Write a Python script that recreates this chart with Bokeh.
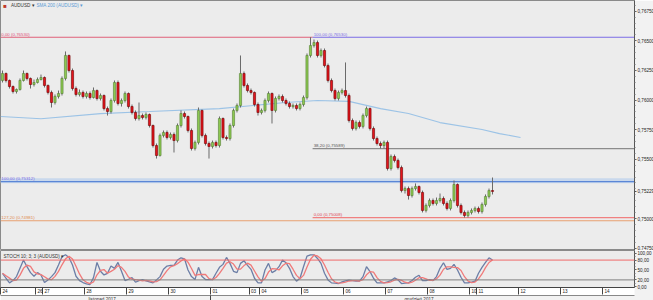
from bokeh.plotting import figure
from bokeh.layouts import column
from bokeh.models import (Range1d, FixedTicker, LinearAxis, CustomJSTickFormatter, Label,
                          ColumnDataSource, Span)
from bokeh.embed import file_html
from bokeh.resources import INLINE

# ---------------- data (AUDUSD, H2 candles) ----------------
first_open = 0.76165
close = [
    0.76224, 0.76165, 0.76114, 0.76072, 0.76089, 0.76165, 0.76224, 0.76182, 0.76131, 0.76148,
    0.76173, 0.76190, 0.76123, 0.76064, 0.75979, 0.76030, 0.76055, 0.76182, 0.76376, 0.76249,
    0.76097, 0.76047, 0.76064, 0.76030, 0.76055, 0.76021, 0.76080, 0.76013, 0.76038, 0.75928,
    0.75903, 0.75996, 0.76148, 0.75971, 0.75996, 0.76055, 0.75945, 0.75895, 0.75844, 0.75869,
    0.75853, 0.75878, 0.75785, 0.75616, 0.75532, 0.75701, 0.75726, 0.75684, 0.75709, 0.75658,
    0.75785, 0.75886, 0.75861, 0.75743, 0.75591, 0.75642, 0.75912, 0.75701, 0.75633, 0.75608,
    0.75642, 0.75616, 0.75844, 0.75684, 0.75675, 0.75785, 0.75912, 0.75954, 0.76224, 0.76123,
    0.76080, 0.76064, 0.75962, 0.75895, 0.75912, 0.75996, 0.76055, 0.75912, 0.76013, 0.76030,
    0.75996, 0.75971, 0.75945, 0.75954, 0.75928, 0.75962, 0.76021, 0.76376, 0.76460, 0.76485,
    0.76376, 0.76418, 0.76291, 0.76165, 0.76080, 0.76013, 0.76064, 0.76080, 0.76038, 0.75827,
    0.75760, 0.75810, 0.75777, 0.75869, 0.75928, 0.75760, 0.75675, 0.75633, 0.75616, 0.75642,
    0.75422, 0.75523, 0.75490, 0.75430, 0.75236, 0.75253, 0.75194, 0.75253, 0.75270, 0.75220,
    0.75068, 0.75110, 0.75152, 0.75127, 0.75152, 0.75169, 0.75127, 0.75085, 0.75152, 0.75287,
    0.75110, 0.75051, 0.75025, 0.75051, 0.75068, 0.75085, 0.75059, 0.75118, 0.75186, 0.75236,
    0.75229]
high = [
    0.76249, 0.76232, 0.76173, 0.76123, 0.76097, 0.76182, 0.76249, 0.76232, 0.76190, 0.76173,
    0.76190, 0.76215, 0.76199, 0.76131, 0.76080, 0.76047, 0.76080, 0.76199, 0.76410, 0.76384,
    0.76266, 0.76114, 0.76089, 0.76080, 0.76072, 0.76072, 0.76106, 0.76089, 0.76055, 0.76047,
    0.75945, 0.76013, 0.76165, 0.76165, 0.76013, 0.76072, 0.76064, 0.75962, 0.75912, 0.75979,
    0.75886, 0.75895, 0.75886, 0.75793, 0.75633, 0.75717, 0.75743, 0.75743, 0.75726, 0.75726,
    0.75802, 0.75912, 0.75903, 0.75869, 0.75760, 0.75658, 0.75937, 0.75920, 0.75717, 0.75650,
    0.75658, 0.75658, 0.75861, 0.75853, 0.75701, 0.75802, 0.75928, 0.75971, 0.76376, 0.76241,
    0.76140, 0.76097, 0.76072, 0.75979, 0.75928, 0.76013, 0.76072, 0.76064, 0.76030, 0.76047,
    0.76047, 0.76013, 0.75988, 0.75971, 0.75971, 0.75979, 0.76038, 0.76393, 0.76530, 0.76511,
    0.76502, 0.76435, 0.76435, 0.76308, 0.76182, 0.76097, 0.76080, 0.76097, 0.76317, 0.76055,
    0.75844, 0.75827, 0.75827, 0.75886, 0.75945, 0.75937, 0.75777, 0.75692, 0.75650, 0.75658,
    0.75658, 0.75540, 0.75540, 0.75506, 0.75447, 0.75270, 0.75270, 0.75270, 0.75296, 0.75279,
    0.75236, 0.75127, 0.75169, 0.75169, 0.75177, 0.75211, 0.75186, 0.75144, 0.75169, 0.75321,
    0.75296, 0.75127, 0.75068, 0.75068, 0.75085, 0.75101, 0.75101, 0.75135, 0.75203, 0.75253,
    0.75346]
low = [
    0.76148, 0.76148, 0.76097, 0.76055, 0.76055, 0.76080, 0.76156, 0.76165, 0.76097, 0.76114,
    0.76140, 0.76165, 0.76106, 0.76047, 0.75937, 0.75962, 0.76013, 0.76038, 0.76165, 0.76232,
    0.76080, 0.76030, 0.76030, 0.76013, 0.76013, 0.76004, 0.76013, 0.75996, 0.75996, 0.75912,
    0.75869, 0.75886, 0.75979, 0.75954, 0.75945, 0.75979, 0.75928, 0.75878, 0.75827, 0.75827,
    0.75836, 0.75836, 0.75768, 0.75599, 0.75506, 0.75523, 0.75684, 0.75667, 0.75667, 0.75557,
    0.75642, 0.75768, 0.75844, 0.75726, 0.75574, 0.75574, 0.75625, 0.75684, 0.75616, 0.75506,
    0.75591, 0.75599, 0.75599, 0.75667, 0.75658, 0.75658, 0.75768, 0.75895, 0.75937, 0.76106,
    0.76064, 0.76047, 0.75945, 0.75869, 0.75878, 0.75895, 0.75979, 0.75802, 0.75895, 0.75996,
    0.75979, 0.75954, 0.75928, 0.75928, 0.75912, 0.75912, 0.75945, 0.76004, 0.76359, 0.76443,
    0.76359, 0.76359, 0.76275, 0.76148, 0.76064, 0.75996, 0.75996, 0.76047, 0.76021, 0.75810,
    0.75743, 0.75743, 0.75760, 0.75760, 0.75853, 0.75743, 0.75658, 0.75616, 0.75591, 0.75591,
    0.75405, 0.75405, 0.75473, 0.75414, 0.75220, 0.75211, 0.75160, 0.75177, 0.75236, 0.75203,
    0.75051, 0.75051, 0.75093, 0.75110, 0.75110, 0.75135, 0.75110, 0.75068, 0.75068, 0.75135,
    0.75093, 0.75034, 0.75008, 0.75009, 0.75034, 0.75051, 0.75042, 0.75042, 0.75101, 0.75169,
    0.75203]

# SMA 200 (read at a few candle positions)
sma_x = [-0.5, 11, 28, 42, 62, 81, 90, 99, 108, 116, 125, 137, 142, 148]
sma_y = [0.75861, 0.75842, 0.75886, 0.75903, 0.75928, 0.75979, 0.75996, 0.75988,
         0.75928, 0.75886, 0.75810, 0.75751, 0.75717, 0.75684]

# Stochastic 10;3;3  %K
stoch_k = [40, 25, 11, 18, 30, 55, 80, 60, 42, 31,
           42, 35, 12, 20, 30, 42, 65, 90, 96, 88,
           65, 31, 18, 12, 8, 6, 27, 73, 46, 35,
           40, 62, 55, 73, 46, 18, 22, 27, 13, 18,
           21, 17, 14, 11, 20, 30, 52, 62, 64, 64,
           80, 87, 84, 50, 30, 21, 58, 30, 21, 21,
           21, 40, 58, 67, 88, 70, 46, 42, 70, 78,
           64, 52, 25, 11, 11, 50, 70, 42, 48, 60,
           80, 72, 55, 30, 16, 25, 60, 92, 96, 96,
           85, 70, 40, 20, 11, 10, 9, 14, 17, 19,
           18, 16, 16, 30, 60, 45, 25, 11, 11, 11,
           14, 18, 26, 20, 9, 10, 11, 18, 28, 34,
           18, 18, 21, 18, 30, 55, 72, 52, 55, 67,
           50, 28, 11, 11, 13, 16, 40, 58, 73, 87,
           80]
stoch_levels = [80, 20]
stoch_ticks = [0, 20, 50, 80, 100]

# Fibonacci levels: (price, label)
fib_left = [(0.76530, "0,00 (0,76530)"), (0.75312, "100,00 (0,75312)"), (0.74981, "127,20 (0,74981)")]
fib_right = [(0.76530, "100,00 (0,76530)"), (0.75589, "38,20 (0,75589)"), (0.75008, "0,00 (0,75008)")]
fib_split = 88.6   # candle position where the second retracement starts
last_price = 0.75229
price_ticks = [0.7475, 0.7500, last_price, 0.7550, 0.7575, 0.7600, 0.7625, 0.7650, 0.7675]

# time axis
day_bounds = [-0.5, 9.5, 11.5, 23.5, 35.5, 47.5, 59.5, 70.5, 73.5, 85.5, 97.5, 109.5,
              121.5, 133.5, 135.5, 147.5, 159.5, 171.5]
day_labels = ["24", "26", "27", "28", "29", "30", "01", "03", "04", "05", "06", "07",
              "08", "10", "11", "12", "13", "14"]
month_pos = [28.5, 119.0]
month_labels = ["listopad 2017", "grudzień 2017"]
month_bound = [59.5]

# ---------------- figure ----------------
FONT = "Liberation Sans"
FS = "4.6px"
BG = "#ececec"
FRAME_W = 634
X0, X1 = -0.57, 180.57
n = len(close)
xs = list(range(n))
opens = [first_open] + close[:-1]
up = [c >= o for o, c in zip(opens, close)]
src = ColumnDataSource(dict(
    x=xs, h=high, l=low,
    top=[max(o, c) for o, c in zip(opens, close)],
    bot=[min(o, c) for o, c in zip(opens, close)],
    fill=["#8cc850" if u else "#e3141c" for u in up],
    line=["#557f35" if u else "#6e0000" for u in up],
))

p = figure(frame_width=FRAME_W, frame_height=250, x_range=Range1d(X0, X1),
           y_range=Range1d(0.74730, 0.76840), y_axis_location="right", x_axis_location=None,
           toolbar_location=None, output_backend="svg", min_border=0,
           background_fill_color=BG, border_fill_color="#f2f2f2")
p.grid.visible = False
p.outline_line_color = "#8a8a8a"

minor = [0.7475 + 0.0005 * i for i in range(45)]
p.yaxis.ticker = FixedTicker(ticks=price_ticks, minor_ticks=minor)
p.yaxis.formatter = CustomJSTickFormatter(code="return tick.toFixed(5).replace('.', ',');")


def style_y(ax):
    ax.axis_line_color = "#555"
    ax.major_tick_out = 2
    ax.major_tick_in = 0
    ax.minor_tick_out = 1
    ax.minor_tick_in = 0
    ax.major_tick_line_color = "#555"
    ax.minor_tick_line_color = "#777"
    ax.major_label_text_font_size = FS
    ax.major_label_text_font = FONT
    ax.major_label_text_color = "#222"
    ax.major_label_standoff = 1


style_y(p.yaxis[0])

# band around the 100% level
p.quad(left=X0, right=X1, top=0.75340, bottom=0.75298, fill_color="#c9d8ec", line_color=None)

# fibonacci lines
fib_colors_left = ["#e0607a", "#5b86d6", "#e8a070"]
fib_colors_right = ["#7b6ce6", "#8c8c8c", "#f08080"]
for i, ((lv, _), col) in enumerate(zip(fib_left, fib_colors_left)):
    right_end = fib_split if i == 0 else X1
    p.segment(x0=[X0], y0=[lv], x1=[right_end], y1=[lv], line_color=col, line_width=1.2)
for (lv, _), col in zip(fib_right, fib_colors_right):
    p.segment(x0=[fib_split], y0=[lv], x1=[X1], y1=[lv], line_color=col, line_width=1.2)

# SMA 200
p.line(sma_x, sma_y, line_color="#9cc3e6", line_width=1.2)

# candles
p.segment(x0="x", y0="h", x1="x", y1="l", source=src, line_color="#6a6a6a", line_width=1)
p.vbar(x="x", width=0.62, top="top", bottom="bot", source=src,
       fill_color="fill", line_color="line", line_width=0.6)

lab_colors_left = ["#e0507a", "#7b6ce6", "#e08a50"]
lab_colors_right = ["#7b6ce6", "#555555", "#e04a5a"]
for (lv, txt), col in zip(fib_left, lab_colors_left):
    p.add_layout(Label(x=-0.35, y=lv, text=txt, text_font_size="4.4px", text_font=FONT,
                       text_color=col, text_baseline="bottom", y_offset=0.5))
for (lv, txt), col in zip(fib_right, lab_colors_right):
    p.add_layout(Label(x=fib_split + 0.3, y=lv, text=txt, text_font_size="4.4px", text_font=FONT,
                       text_color=col, text_baseline="bottom", y_offset=0.5))

# legend-like header
top_y = 0.76795
p.add_layout(Label(x=0.2, y=top_y, text="■", text_font_size="6px", text_color="#c0392b",
                   text_baseline="middle"))
p.add_layout(Label(x=2.4, y=top_y, text="AUDUSD  ▾", text_font_size=FS, text_font=FONT,
                   text_color="#333", text_baseline="middle"))
p.add_layout(Label(x=9.7, y=top_y, text="SMA 200 (AUDUSD)  ▾", text_font_size=FS,
                   text_font=FONT, text_color="#5b9bd5", text_baseline="middle"))

# ---------------- stochastic panel ----------------
stoch_d = []
for i in range(len(stoch_k)):
    w = stoch_k[max(0, i - 2):i + 1]
    stoch_d.append(sum(w) / len(w))

s = figure(frame_width=FRAME_W, frame_height=37, x_range=p.x_range, y_range=Range1d(-3, 109),
           y_axis_location="right", x_axis_location=None, toolbar_location=None,
           output_backend="svg", min_border=0, background_fill_color=BG,
           border_fill_color="#f2f2f2")
s.grid.visible = False
s.outline_line_color = "#8a8a8a"
s.yaxis.ticker = FixedTicker(ticks=stoch_ticks, minor_ticks=list(range(0, 101, 10)))
s.yaxis.formatter = CustomJSTickFormatter(code="return tick.toFixed(2).replace('.', ',');")
style_y(s.yaxis[0])

s.add_layout(Span(location=stoch_levels[0], dimension="width", line_color="#f06a6a", line_width=1))
s.add_layout(Span(location=stoch_levels[1], dimension="width", line_color="#7f7f7f", line_width=1))
s.line(xs, stoch_k, line_color="#6c7ea6", line_width=1.3)
s.line(xs, stoch_d, line_color="#f07a7a", line_width=1.3)
s.add_layout(Label(x=0.3, y=91, text="STOCH 10; 3; 3 (AUDUSD)  ▾", text_font_size=FS,
                   text_font=FONT, text_color="#333", text_baseline="middle"))


def label_fmt(pos, labs):
    return CustomJSTickFormatter(args=dict(pos=pos, labs=labs), code="""
  for (let i = 0; i < pos.length; i++) { if (Math.abs(pos[i] - tick) < 1e-6) return labs[i]; }
  return '';""")


# day axis
centers = [b + 1.2 for b in day_bounds]
dax = LinearAxis(ticker=FixedTicker(ticks=centers, minor_ticks=day_bounds),
                 formatter=label_fmt(centers, day_labels))
dax.major_tick_out = 0
dax.major_tick_in = 0
dax.minor_tick_out = 7
dax.minor_tick_in = 0
dax.minor_tick_line_color = "#444"
dax.axis_line_color = "#444"
dax.major_label_text_font_size = FS
dax.major_label_text_font = FONT
dax.major_label_text_color = "#222"
dax.major_label_standoff = -6
try:
    dax.background_fill_color = "white"
except Exception:
    pass
s.add_layout(dax, "below")

mx = LinearAxis(ticker=FixedTicker(ticks=month_pos, minor_ticks=month_bound),
                formatter=label_fmt(month_pos, month_labels))
mx.major_tick_out = 0
mx.major_tick_in = 0
mx.minor_tick_out = 6
mx.minor_tick_in = 0
mx.minor_tick_line_color = "#444"
mx.axis_line_color = "#888"
mx.major_label_text_font_size = FS
mx.major_label_text_font = FONT
mx.major_label_text_color = "#333"
mx.major_label_standoff = -5
s.add_layout(mx, "below")

layout = column(p, s, spacing=0)
open("out.html", "w").write(file_html(layout, INLINE))
